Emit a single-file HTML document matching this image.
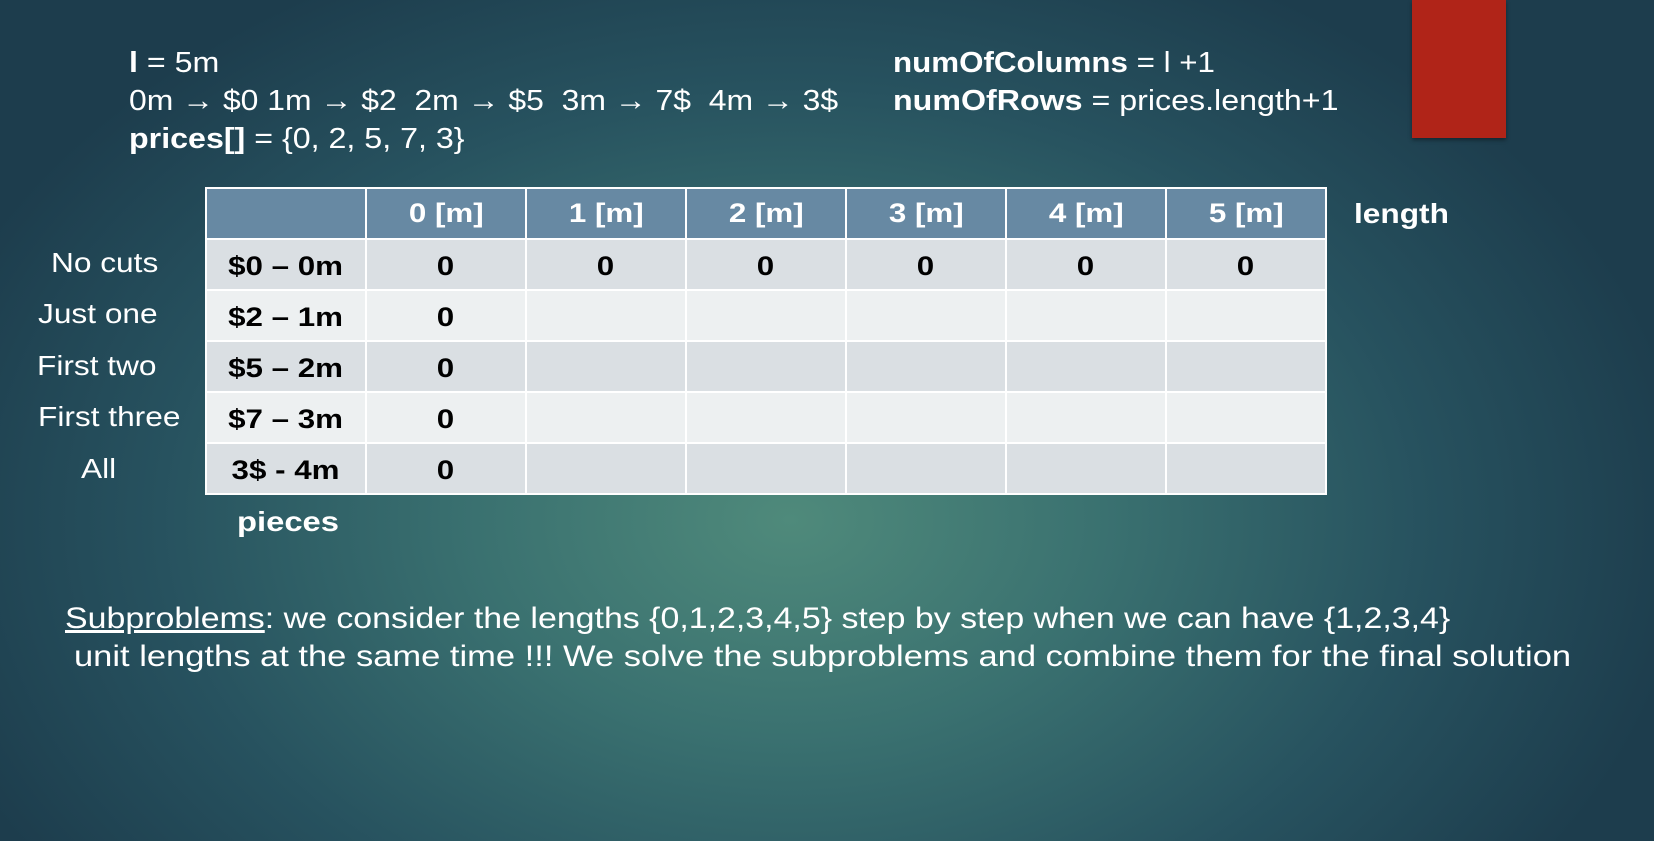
<!DOCTYPE html>
<html><head><meta charset="utf-8"><style>
html,body{margin:0;padding:0}
body{width:1654px;height:841px;overflow:hidden;position:relative;font-family:"Liberation Sans",sans-serif;
background:radial-gradient(ellipse 900px 620px at 790px 520px,#4f8a7b 0%,#3a7170 35%,#27525f 70%,#1d3d4d 100%);color:#fff}
.t{position:absolute;font-size:29px;white-space:nowrap;line-height:1;transform-origin:0 0}
b{font-weight:bold}
table{position:absolute;left:205px;top:187px;border-collapse:collapse;font-weight:bold;font-size:27px;color:#000;table-layout:fixed;width:1122px}
td{border:2px solid #fff;width:160px;text-align:center;padding:4px 0 0 0;height:51px;box-sizing:border-box}
td span{display:inline-block;transform:scaleX(1.16)}
tr.h td{background:#6789a3;color:#fff;height:51px;padding-top:0}
tr.o td{background:#dadfe3}
tr.e td{background:#edf0f1}
.rl{position:absolute;font-size:28px;white-space:nowrap;transform:scaleX(1.13);transform-origin:0 0}
</style></head><body>
<div class="t" style="left:129px;top:49px;transform:scaleX(1.11)"><b>l</b> = 5m</div>
<div class="t" style="left:129px;top:87px;transform:scaleX(1.1)">0m → $0 1m → $2&nbsp; 2m → $5&nbsp; 3m → 7$&nbsp; 4m → 3$</div>
<div class="t" style="left:129px;top:125px;transform:scaleX(1.11)"><b>prices[]</b> = {0, 2, 5, 7, 3}</div>
<div class="t" style="left:893px;top:49px;transform:scaleX(1.08)"><b>numOfColumns</b> = l +1</div>
<div class="t" style="left:893px;top:87px;transform:scaleX(1.11)"><b>numOfRows</b> = prices.length+1</div>
<div style="position:absolute;left:1412px;top:0;width:94px;height:138px;background:#b02418;box-shadow:0 2px 4px rgba(0,0,0,.4)"></div>
<table>
<tr class="h"><td></td><td><span>0 [m]</span></td><td><span>1 [m]</span></td><td><span>2 [m]</span></td><td><span>3 [m]</span></td><td><span>4 [m]</span></td><td><span>5 [m]</span></td></tr>
<tr class="o"><td><span>$0 – 0m</span></td><td><span>0</span></td><td><span>0</span></td><td><span>0</span></td><td><span>0</span></td><td><span>0</span></td><td><span>0</span></td></tr>
<tr class="e"><td><span>$2 – 1m</span></td><td><span>0</span></td><td></td><td></td><td></td><td></td><td></td></tr>
<tr class="o"><td><span>$5 – 2m</span></td><td><span>0</span></td><td></td><td></td><td></td><td></td><td></td></tr>
<tr class="e"><td><span>$7 – 3m</span></td><td><span>0</span></td><td></td><td></td><td></td><td></td><td></td></tr>
<tr class="o"><td><span>3$ - 4m</span></td><td><span>0</span></td><td></td><td></td><td></td><td></td><td></td></tr>
</table>
<div class="rl" style="top:247px;left:51px">No cuts</div>
<div class="rl" style="top:298px;left:38px">Just one</div>
<div class="rl" style="top:350px;left:37px">First two</div>
<div class="rl" style="top:401px;left:38px">First three</div>
<div class="rl" style="top:453px;left:81px">All</div>
<div class="t" style="left:1354px;top:200px;font-weight:bold;font-size:28px;transform:scaleX(1.13)">length</div>
<div class="t" style="left:237px;top:508px;font-weight:bold;font-size:28px;transform:scaleX(1.17)">pieces</div>
<div class="t" style="left:65px;top:604px;font-size:30px;transform:scaleX(1.13)"><u>Subproblems</u>: we consider the lengths {0,1,2,3,4,5} step by step when we can have {1,2,3,4}</div>
<div class="t" style="left:74px;top:642px;font-size:30px;transform:scaleX(1.15)">unit lengths at the same time !!! We solve the subproblems and combine them for the final solution</div>
</body></html>
